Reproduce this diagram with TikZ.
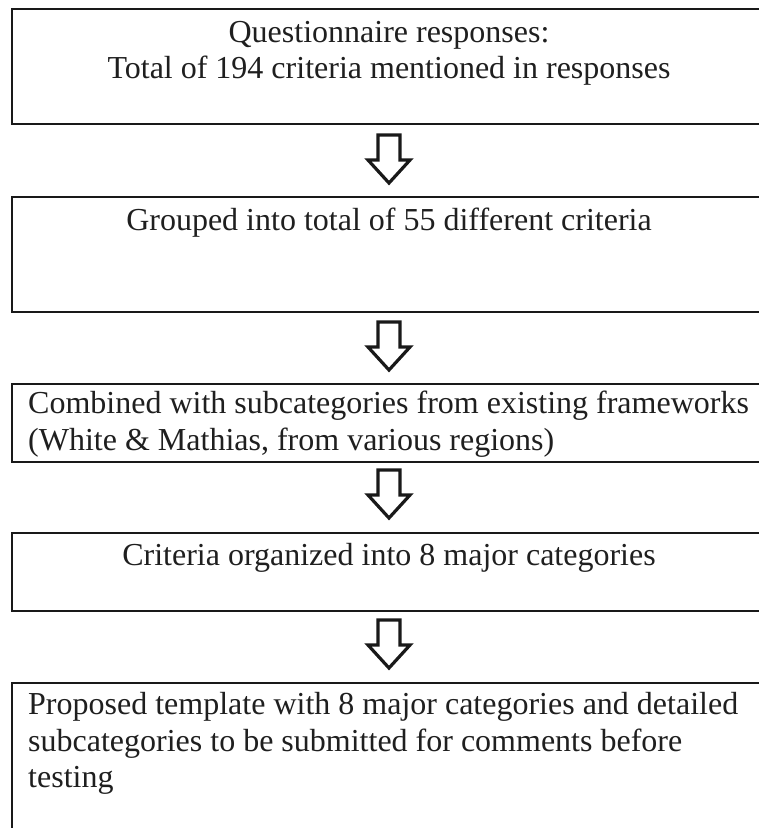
\documentclass[tikz,border=0pt]{standalone}
\usepackage{fontspec}
\setmainfont{Liberation Serif}
\begin{document}
\begin{tikzpicture}[x=1pt,y=-1pt,
  box/.style={draw=black!90, line width=1.6pt, inner sep=0pt, outer sep=0pt,
    anchor=north west, minimum width=754pt},
  txt/.style={inner sep=0pt, font=\fontsize{32}{37}\selectfont, text=black!88},
  arrowline/.style={draw=black!90, line width=3.2pt, fill=white, line join=miter}]
% page frame
\useasboundingbox (0,0) rectangle (759,828);
\clip (0,0) rectangle (759,828);
\fill[white] (0,0) rectangle (759,828);

% block arrow hanging below a given point
\newcommand\downarrowblock[1]{%
  \draw[arrowline] (#1) ++(-11,0) -- ++(22,0) -- ++(0,25) -- ++(10,0)
    -- ++(-21,23) -- ++(-21,-23) -- ++(10,0) -- cycle;}

% boxes
\node[box, minimum height=115pt] (b1) at (12,9)   {};
\node[box, minimum height=115pt] (b2) at (12,197) {};
\node[box, minimum height=78pt]  (b3) at (12,384) {};
\node[box, minimum height=78pt]  (b4) at (12,533) {};
\node[box, minimum height=160pt] (b5) at (12,683) {};

% texts
\node[txt, anchor=base] (t1a) at (389,42) {Questionnaire responses:};
\node[txt, anchor=base] (t1b) at (389,78) {Total of 194 criteria mentioned in responses};
\node[txt, anchor=base] (t2)  at (389,230) {Grouped into total of 55 different criteria};
\node[txt, anchor=base west] (t3a) at (28,413) {Combined with subcategories from existing frameworks};
\node[txt, anchor=base west] (t3b) at (28,450) {(White \& Mathias, from various regions)};
\node[txt, anchor=base] (t4)  at (389,565) {Criteria organized into 8 major categories};
\node[txt, anchor=base west] (t5a) at (28,714) {Proposed template with 8 major categories and detailed};
\node[txt, anchor=base west] (t5b) at (28,751) {subcategories to be submitted for comments before};
\node[txt, anchor=base west] (t5c) at (28,787) {testing};

% arrows between the stages
\coordinate (a1) at ([yshift=-11pt]b1.south);
\coordinate (a2) at ([yshift=-10pt]b2.south);
\coordinate (a3) at ([yshift=-8pt]b3.south);
\coordinate (a4) at ([yshift=-9pt]b4.south);
\downarrowblock{a1}
\downarrowblock{a2}
\downarrowblock{a3}
\downarrowblock{a4}
\end{tikzpicture}
\end{document}
